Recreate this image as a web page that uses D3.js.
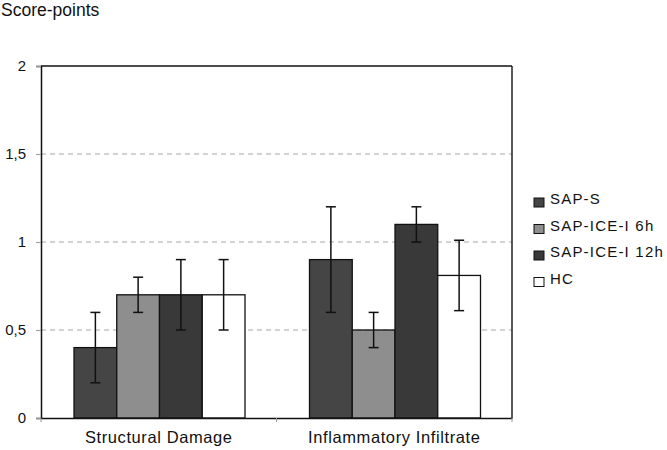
<!DOCTYPE html>
<html><head><meta charset="utf-8">
<script src="https://cdn.jsdelivr.net/npm/d3@7"></script>
<style>
html,body{margin:0;padding:0;background:#fff;}
text{font-family:"Liberation Sans",Arial,sans-serif;fill:#111;}
</style></head>
<body><svg id="c" width="667" height="450"></svg>
<script>
const categories = ["Structural Damage", "Inflammatory Infiltrate"];
const seriesNames = ["SAP-S", "SAP-ICE-I 6h", "SAP-ICE-I 12h", "HC"];
const sapS   = [0.4, 0.9];
const ice6h  = [0.7, 0.5];
const ice12h = [0.7, 1.1];
const hc     = [0.7, 0.81];
const errSapS  = [0.2, 0.3];
const errIce6  = [0.1, 0.1];
const errIce12 = [0.2, 0.1];
const errHc    = [0.2, 0.2];
const yTicks = [0, 0.5, 1, 1.5, 2];
const yTickLabels = ["0", "0,5", "1", "1,5", "2"];
const colors = ["#454545", "#8e8e8e", "#393939", "#ffffff"];

const values = [sapS, ice6h, ice12h, hc];
const errs = [errSapS, errIce6, errIce12, errHc];

const svg = d3.select("#c");
const L = 41, R = 512, T = 66, B = 418;
const FONT = "'Liberation Sans', Arial, sans-serif";

const y = d3.scaleLinear().domain([0, 2]).range([B, T]);
const x0 = d3.scaleBand().domain(categories).range([L, R]).padding(0);
const x1 = d3.scaleBand().domain(seriesNames).range([33, 204]).padding(0);

// gridlines
svg.append("g").selectAll("line").data(yTicks.filter(d => d > 0 && d < 2)).join("line")
  .attr("x1", L).attr("x2", R).attr("y1", d => y(d)).attr("y2", d => y(d))
  .attr("stroke", "#a8a8a8").attr("stroke-width", 1).attr("stroke-dasharray", "5,4");

// frame
svg.append("line").attr("x1", L).attr("x2", R).attr("y1", T).attr("y2", T).attr("stroke", "#111").attr("stroke-width", 1.5);
svg.append("line").attr("x1", R).attr("x2", R).attr("y1", T).attr("y2", B).attr("stroke", "#222").attr("stroke-width", 1.5);

// y axis
const yAxis = d3.axisLeft(y).tickValues(yTicks).tickFormat((d, i) => yTickLabels[i]).tickSize(5).tickPadding(10);
const gy = svg.append("g").attr("transform", `translate(${L},0)`).call(yAxis);
gy.attr("font-family", FONT);
gy.select(".domain").attr("stroke", "#111").attr("stroke-width", 1.5);
gy.selectAll(".tick line").attr("stroke", "#999");
gy.selectAll(".tick text").attr("font-size", 15).attr("fill", "#111").attr("font-family", FONT);

// bars
const groups = svg.append("g").selectAll("g").data(categories).join("g")
  .attr("transform", c => `translate(${x0(c)},0)`);
seriesNames.forEach((s, si) => {
  groups.append("rect")
    .attr("x", x1(s)).attr("width", x1.bandwidth())
    .attr("y", (c, ci) => y(values[si][ci]))
    .attr("height", (c, ci) => B - y(values[si][ci]))
    .attr("fill", colors[si]).attr("stroke", "#111").attr("stroke-width", 1.3);
});
// error bars
seriesNames.forEach((s, si) => {
  const cx = x1(s) + x1.bandwidth() / 2;
  groups.append("line").attr("x1", cx).attr("x2", cx)
    .attr("y1", (c, ci) => y(values[si][ci] + errs[si][ci]))
    .attr("y2", (c, ci) => y(values[si][ci] - errs[si][ci]))
    .attr("stroke", "#111").attr("stroke-width", 1.5);
  [1, -1].forEach(sg => {
    groups.append("line").attr("x1", cx - 5).attr("x2", cx + 5)
      .attr("y1", (c, ci) => y(values[si][ci] + sg * errs[si][ci]))
      .attr("y2", (c, ci) => y(values[si][ci] + sg * errs[si][ci]))
      .attr("stroke", "#111").attr("stroke-width", 1.5);
  });
});

// x axis
const xAxis = d3.axisBottom(x0).tickSize(0).tickPadding(13);
const gx = svg.append("g").attr("transform", `translate(0,${B})`).call(xAxis);
gx.attr("font-family", FONT);
gx.select(".domain").attr("stroke", "#111").attr("stroke-width", 1.5);
gx.selectAll(".tick text").attr("font-size", 16.5).attr("fill", "#111")
  .attr("letter-spacing", "0.6px").attr("font-family", FONT);
// category boundary ticks
svg.append("g").selectAll("line").data([L, x0(categories[1]), R]).join("line")
  .attr("x1", d => d).attr("x2", d => d).attr("y1", B).attr("y2", B + 4)
  .attr("stroke", "#999").attr("stroke-width", 1);

// y title
svg.append("text").attr("x", 1).attr("y", 16).attr("font-size", 17.5).attr("font-family", FONT).text("Score-points");

// legend
const lg = svg.append("g").selectAll("g").data(seriesNames).join("g")
  .attr("transform", (d, i) => `translate(534,${198 + i * 26.5})`);
lg.append("rect").attr("width", 10).attr("height", 9)
  .attr("fill", (d, i) => colors[i]).attr("stroke", "#111").attr("stroke-width", 1);
lg.append("text").attr("x", 16).attr("y", 6).attr("font-size", 15).attr("font-family", FONT)
  .attr("letter-spacing", "1.2px").text(d => d);
</script></body></html>
